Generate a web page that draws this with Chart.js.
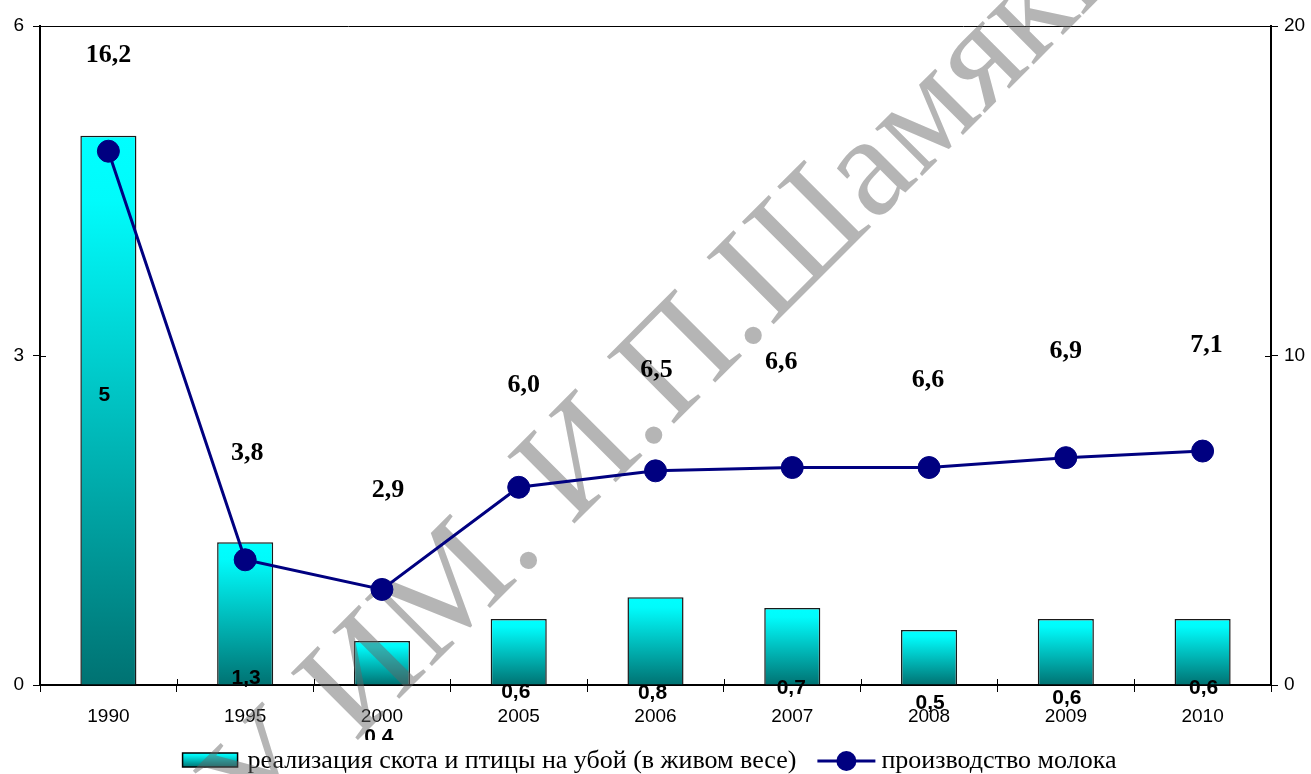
<!DOCTYPE html>
<html>
<head>
<meta charset="utf-8">
<script src="https://cdn.jsdelivr.net/npm/chart.js@4.4.1/dist/chart.umd.min.js"></script>
<style>
  html, body { margin: 0; padding: 0; background: #fff; }
  #wrap { width: 1311px; height: 774px; position: relative; }
</style>
</head>
<body>
<div id="wrap"><canvas id="chart" width="1311" height="774"></canvas></div>
<script>
// Years on the category axis
const categories = ['1990', '1995', '2000', '2005', '2006', '2007', '2008', '2009', '2010'];
// Livestock and poultry sold for slaughter (left axis)
const slaughterValues = [5, 1.3, 0.4, 0.6, 0.8, 0.7, 0.5, 0.6, 0.6];
// Milk production (right axis)
const milkValues = [16.2, 3.8, 2.9, 6.0, 6.5, 6.6, 6.6, 6.9, 7.1];
// Axis ticks
const leftTicks = [0, 3, 6];
const rightTicks = [0, 10, 20];
const seriesNames = ['реализация скота и птицы на убой (в живом весе)', 'производство молока'];
const watermarkText = 'МГПУ ИМ. И.П.Шамякина';

const NAVY = '#000080';
const fmtBar = v => (Number.isInteger(v) ? String(v) : v.toFixed(1).replace('.', ','));
const fmtMilk = v => v.toFixed(1).replace('.', ',');

function barGradient(g) {
  g.addColorStop(0, '#00ffff');
  g.addColorStop(0.12, '#00fbfb');
  g.addColorStop(1, '#007272');
  return g;
}

// Label placement tweaks (pixels), per category
const lineLabelNudge = [[0, 6], [2, -5], [6, 3], [5, 0], [1, 1], [-11, -3], [-1, 15], [0, -4], [4, -4]];
const barLabelNudge  = [[-4, -290], [1, -7], [-3, 52], [-3, 7], [-3, 8], [-1, 3], [1, 18], [1, 13], [1, 3]];

const labelsPlugin = {
  id: 'valueLabels',
  afterDatasetDraw(chart, args) {
    const ctx = chart.ctx;
    if (args.index === 0) {
      // diagonal watermark over the bars
      ctx.save();
      ctx.font = '145px "Liberation Serif"';
      ctx.fillStyle = 'rgba(100,100,100,0.48)';
      ctx.textBaseline = 'alphabetic';
      ctx.textAlign = 'left';
      ctx.translate(528, 560);
      ctx.rotate(-Math.PI / 4);
      const pre = ctx.measureText('МГПУ ИМ').width;
      const dot = ctx.measureText('.').width;
      ctx.fillText(watermarkText, -pre - dot / 2, 7);
      ctx.restore();
    }
  },
  afterDatasetsDraw(chart) {
    const ctx = chart.ctx;
    const area = chart.chartArea;
    const barMeta = chart.getDatasetMeta(0);
    const lineMeta = chart.getDatasetMeta(1);
    const ys = chart.scales.y, ys2 = chart.scales.y2;
    const zeroY = ys.getPixelForValue(0);
    ctx.save();
    // inner halves of the crossing tick marks
    ctx.strokeStyle = '#000';
    ctx.lineWidth = 1;
    ctx.beginPath();
    const step = (area.right - area.left) / categories.length;
    for (let i = 1; i < categories.length; i++) {
      const x = Math.round(area.left + i * step) + 0.5;
      ctx.moveTo(x, zeroY - 6);
      ctx.lineTo(x, zeroY);
    }
    leftTicks.forEach(v => {
      const y = Math.round(ys.getPixelForValue(v)) + 0.5;
      ctx.moveTo(area.left, y);
      ctx.lineTo(area.left + 6, y);
    });
    rightTicks.forEach(v => {
      const y = Math.round(ys2.getPixelForValue(v)) + 0.5;
      ctx.moveTo(area.right - 6, y);
      ctx.lineTo(area.right, y);
    });
    ctx.stroke();

    ctx.fillStyle = '#000';
    ctx.textAlign = 'center';
    ctx.textBaseline = 'middle';
    // milk labels above the markers
    ctx.font = 'bold 26px "Liberation Serif"';
    lineMeta.data.forEach((pt, i) => {
      const [dx, dy] = lineLabelNudge[i];
      ctx.fillText(fmtMilk(milkValues[i]), pt.x + dx, pt.y - 102 + dy);
    });
    // slaughter labels near the bar bases
    ctx.beginPath();
    ctx.rect(0, 0, chart.width, 740);
    ctx.clip();
    ctx.font = 'bold 21px "Liberation Sans"';
    barMeta.data.forEach((bar, i) => {
      const [dx, dy] = barLabelNudge[i];
      ctx.fillText(fmtBar(slaughterValues[i]), bar.x + dx, zeroY + dy);
    });
    ctx.restore();
  },
  beforeDatasetsDraw(chart) {
    // legend below the category axis
    const ctx = chart.ctx;
    ctx.save();
    ctx.font = '26px "Liberation Serif"';
    const w1 = ctx.measureText(seriesNames[0]).width;
    const w2 = ctx.measureText(seriesNames[1]).width;
    const boxW = 55, gapBox = 10, gapItems = 21, lineW = 58, gapLine = 6;
    const total = boxW + gapBox + w1 + gapItems + lineW + gapLine + w2;
    const cx = (chart.chartArea.left + chart.chartArea.right) / 2 - 6;
    let x = cx - total / 2;
    const midY = 761, baseY = 768;
    ctx.fillStyle = barGradient(ctx.createLinearGradient(0, 753, 0, 767));
    ctx.fillRect(x, 753, boxW, 14);
    ctx.strokeStyle = '#000';
    ctx.lineWidth = 1.5;
    ctx.strokeRect(x, 753, boxW, 14);
    x += boxW + gapBox;
    ctx.fillStyle = '#000';
    ctx.textBaseline = 'alphabetic';
    ctx.fillText(seriesNames[0], x, baseY);
    x += w1 + gapItems;
    ctx.strokeStyle = NAVY;
    ctx.lineWidth = 3;
    ctx.beginPath();
    ctx.moveTo(x, midY);
    ctx.lineTo(x + lineW, midY);
    ctx.stroke();
    ctx.fillStyle = NAVY;
    ctx.beginPath();
    ctx.arc(x + lineW / 2, midY, 10, 0, Math.PI * 2);
    ctx.fill();
    x += lineW + gapLine;
    ctx.fillStyle = '#000';
    ctx.fillText(seriesNames[1], x, baseY);
    ctx.restore();
  }
};

// cyan-to-teal fill for each bar, spanning the bar's own height
function barFill(c) {
  const chart = c.chart;
  const ys = chart.scales && chart.scales.y;
  if (!ys || c.dataIndex === undefined) return '#00e0e0';
  const top = ys.getPixelForValue(slaughterValues[c.dataIndex]);
  const bottom = ys.getPixelForValue(0);
  if (!Number.isFinite(top) || !Number.isFinite(bottom) || bottom <= top) return '#00e0e0';
  return barGradient(chart.ctx.createLinearGradient(0, top, 0, bottom));
}

new Chart(document.getElementById('chart'), {
  data: {
    labels: categories,
    datasets: [
      {
        type: 'bar',
        label: seriesNames[0],
        data: slaughterValues,
        yAxisID: 'y',
        order: 1,
        barPercentage: 0.41,
        categoryPercentage: 1,
        borderColor: '#1a1a1a',
        borderWidth: 1.5,
        backgroundColor: barFill
      },
      {
        type: 'line',
        label: seriesNames[1],
        data: milkValues,
        yAxisID: 'y2',
        order: 0,
        borderColor: NAVY,
        borderWidth: 3,
        tension: 0,
        pointRadius: 11,
        pointHoverRadius: 11,
        pointBackgroundColor: NAVY,
        pointBorderColor: NAVY,
        pointBorderWidth: 1
      }
    ]
  },
  options: {
    responsive: false,
    animation: false,
    events: [],
    layout: { padding: { top: 26, left: 0, right: 0, bottom: 0 } },
    plugins: { legend: { display: false }, tooltip: { enabled: false } },
    scales: {
      x: {
        type: 'category',
        offset: true,
        grid: { offset: true, drawOnChartArea: false, color: '#000', tickLength: 7, lineWidth: 1 },
        border: { color: '#000', width: 2 },
        ticks: { color: '#000', font: { family: 'Liberation Sans', size: 19 }, padding: 13, maxRotation: 0 },
        afterFit: (s) => { s.height = 89; }
      },
      y: {
        position: 'left',
        min: 0, max: 6,
        afterBuildTicks: (s) => { s.ticks = leftTicks.map(v => ({ value: v })); },
        grid: {
          color: (c) => (c.tick && c.tick.value === 6 ? '#000' : 'rgba(0,0,0,0)'),
          tickColor: '#000', tickLength: 7, lineWidth: 1
        },
        border: { color: '#000', width: 2 },
        ticks: { color: '#000', font: { family: 'Liberation Sans', size: 19 }, padding: 9 },
        afterFit: (s) => { s.width = 40; }
      },
      y2: {
        position: 'right',
        min: 0, max: 20,
        afterBuildTicks: (s) => { s.ticks = rightTicks.map(v => ({ value: v })); },
        grid: { drawOnChartArea: false, color: '#000', tickLength: 7, lineWidth: 1 },
        border: { color: '#000', width: 2 },
        ticks: { color: '#000', font: { family: 'Liberation Sans', size: 19 }, padding: 6 },
        afterFit: (s) => { s.width = 40; }
      }
    }
  },
  plugins: [labelsPlugin]
});
</script>
</body>
</html>
